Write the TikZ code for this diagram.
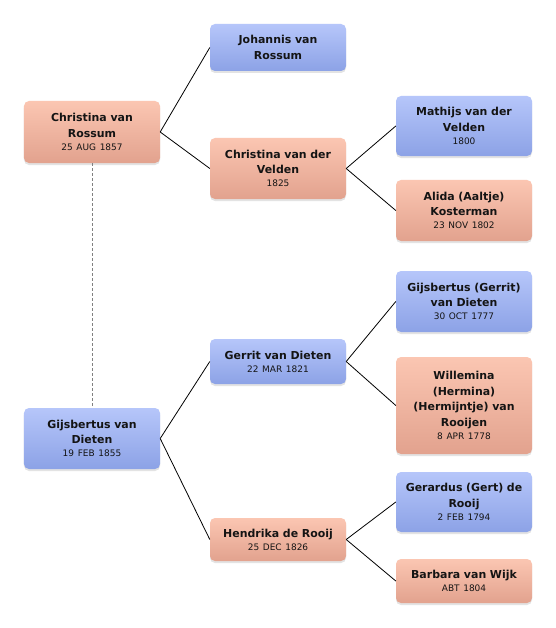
\documentclass[tikz,border=0pt]{standalone}
\usepackage{fontspec}
\setmainfont{DejaVu Sans}
\usetikzlibrary{shadows}
\definecolor{pinkT}{RGB}{251,198,178}
\definecolor{pinkB}{RGB}{226,162,142}
\definecolor{blueT}{RGB}{182,198,250}
\definecolor{blueB}{RGB}{140,162,230}
\definecolor{txt}{RGB}{20,20,20}
\newcommand{\dte}[1]{\\[-2.5bp]{\mdseries\fontsize{9}{11}\selectfont #1}}
\tikzset{
  person/.style={rounded corners=5bp, minimum width=136bp, text width=134bp,
    align=center, inner sep=0pt, text=txt,
    font=\fontsize{11}{15.5}\selectfont\bfseries,
    drop shadow={opacity=0.22, shadow xshift=0bp, shadow yshift=-2bp}},
  female/.style={person, top color=pinkT, bottom color=pinkB},
  male/.style={person, top color=blueT, bottom color=blueB},
  link/.style={line width=0.8bp, black},
  spouse/.style={line width=1bp, gray, dash pattern=on 3bp off 2bp}
}
\begin{document}
\begin{tikzpicture}[x=1bp,y=-1bp]
\useasboundingbox[fill=white] (0,0) rectangle (556,628);
\node[female, minimum height=62bp] (cvr) at (92,132) {Christina van\\Rossum\dte{25 AUG 1857}};
\node[male, minimum height=47bp] (jvr) at (278,47.5) {Johannis van\\Rossum};
\node[female, minimum height=61bp] (cvdv) at (278,168.5) {Christina van der\\Velden\dte{1825}};
\node[male, minimum height=60bp] (mvdv) at (464,126) {Mathijs van der\\Velden\dte{1800}};
\node[female, minimum height=61bp] (ak) at (464,210.5) {Alida (Aaltje)\\Kosterman\dte{23 NOV 1802}};
\node[male, minimum height=61bp] (ggvd) at (464,301.5) {Gijsbertus (Gerrit)\\van Dieten\dte{30 OCT 1777}};
\node[female, minimum height=97bp] (whvr) at (464,405.5) {Willemina\\(Hermina)\\(Hermijntje) van\\Rooijen\dte{8 APR 1778}};
\node[male, minimum height=45bp] (gerrit) at (278,361.5) {Gerrit van Dieten\dte{22 MAR 1821}};
\node[male, minimum height=61bp] (gvd) at (92,438.5) {Gijsbertus van\\Dieten\dte{19 FEB 1855}};
\node[female, minimum height=43bp] (hdr) at (278,539.5) {Hendrika de Rooij\dte{25 DEC 1826}};
\node[male, minimum height=60bp] (gdr) at (464,502) {Gerardus (Gert) de\\Rooij\dte{2 FEB 1794}};
\node[female, minimum height=44bp] (bvw) at (464,581) {Barbara van Wijk\dte{ABT 1804}};

\draw[spouse] (cvr.south) -- (gvd.north);
\draw[link] (cvr.east) -- (jvr.west);
\draw[link] (cvr.east) -- (cvdv.west);
\draw[link] (cvdv.east) -- (mvdv.west);
\draw[link] (cvdv.east) -- (ak.west);
\draw[link] (gvd.east) -- (gerrit.west);
\draw[link] (gvd.east) -- (hdr.west);
\draw[link] (gerrit.east) -- (ggvd.west);
\draw[link] (gerrit.east) -- (whvr.west);
\draw[link] (hdr.east) -- (gdr.west);
\draw[link] (hdr.east) -- (bvw.west);
\end{tikzpicture}
\end{document}
